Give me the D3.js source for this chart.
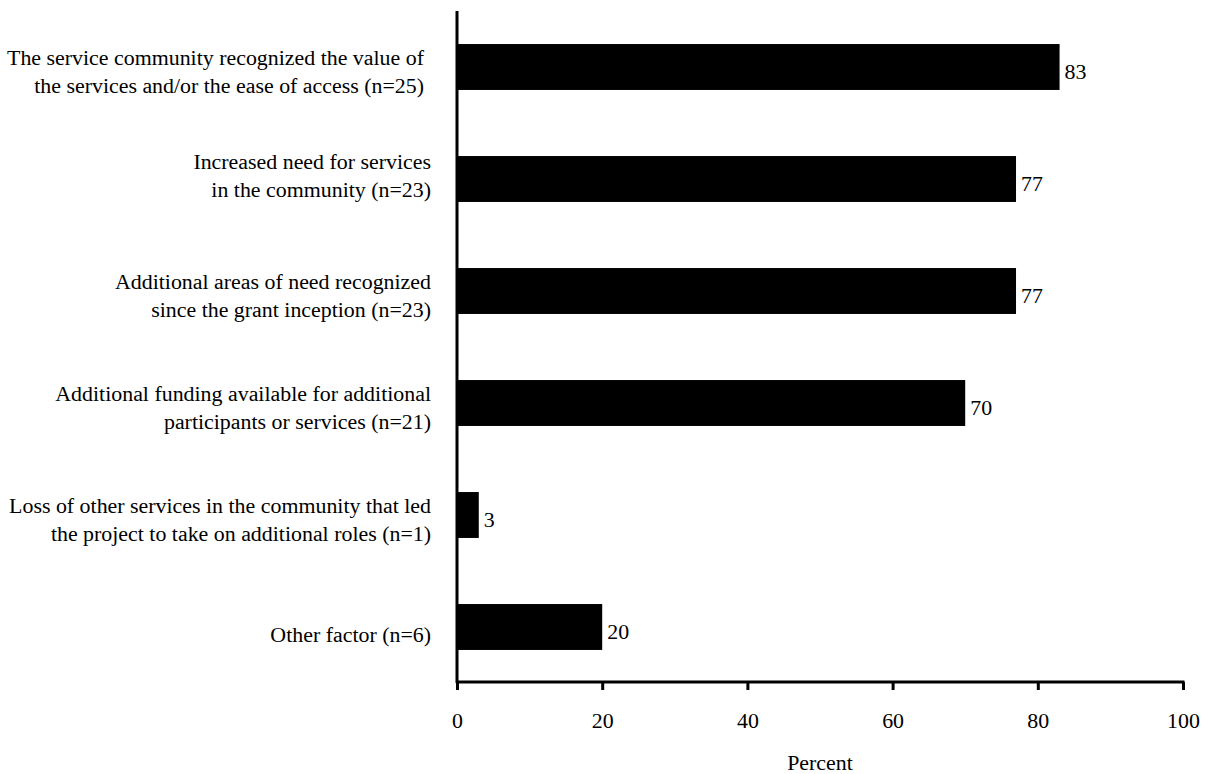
<!DOCTYPE html>
<html>
<head>
<meta charset="utf-8">
<script src="https://cdn.jsdelivr.net/npm/d3@7"></script>
<style>
  html, body { margin: 0; padding: 0; background: #fff; }
  svg text { font-family: "Liberation Serif", "Times New Roman", Times, "DejaVu Serif", serif !important; fill: #000; }
</style>
</head>
<body>
<svg id="chart" width="1207" height="774"></svg>
<script>
// ---- data ----
const categories = [
  ["The service community recognized the value of", "the services and/or the ease of access (n=25)"],
  ["Increased need for services", "in the community (n=23)"],
  ["Additional areas of need recognized", "since the grant inception (n=23)"],
  ["Additional funding available for additional", "participants or services (n=21)"],
  ["Loss of other services in the community that led", "the project to take on additional roles (n=1)"],
  ["Other factor (n=6)"]
];
const values = [83, 77, 77, 70, 3, 20];
const xTicks = [0, 20, 40, 60, 80, 100];
const xAxisTitle = "Percent";

(function () {
  const svg = d3.select("#chart");
  const mLeft = 457, mRight = 1183, mTop = 11, mBottom = 683;
  const fontSize = 21.9;

  const x = d3.scaleLinear().domain([0, 100]).range([mLeft, mRight]);
  const y = d3.scaleBand()
    .domain(d3.range(categories.length))
    .range([mTop, mBottom])
    .paddingInner(0.59)
    .paddingOuter(0.295);

  // bars
  svg.append("g").selectAll("rect")
    .data(values)
    .join("rect")
    .attr("x", x(0))
    .attr("y", (d, i) => y(i))
    .attr("width", d => x(d) - x(0))
    .attr("height", y.bandwidth())
    .attr("fill", "#000");

  // value labels
  svg.append("g").selectAll("text")
    .data(values)
    .join("text")
    .attr("x", d => x(d) + 5)
    .attr("y", (d, i) => y(i) + y.bandwidth() / 2 + 12)
    .attr("font-size", fontSize)
    .text(d => d);

  // category labels
  const labelG = svg.append("g");
  categories.forEach((lines, i) => {
    const cy = y(i) + y.bandwidth() / 2;
    const ax = i === 0 ? 424 : 431;
    const shift = i === 1 ? -8 : 0;
    const t = labelG.append("text")
      .attr("text-anchor", "end")
      .attr("font-size", fontSize);
    if (lines.length === 1) {
      t.append("tspan").attr("x", ax).attr("y", cy + 15).text(lines[0]);
    } else {
      lines.forEach((ln, j) => {
        t.append("tspan").attr("x", ax).attr("y", cy - 2 + shift + j * 28).text(ln);
      });
    }
  });

  // x axis
  const xAxis = d3.axisBottom(x)
    .tickValues(xTicks)
    .tickSize(8)
    .tickPadding(22)
    .tickFormat(d3.format("d"));
  const gx = svg.append("g")
    .attr("transform", `translate(0,${mBottom - 1})`)
    .call(xAxis);
  gx.attr("font-family", null);
  gx.select(".domain").attr("stroke", "#000").attr("stroke-width", 3)
    .attr("d", `M${mLeft},0H${mRight + 1.5}`);
  gx.selectAll(".tick line").attr("stroke", "#000").attr("stroke-width", 3);
  gx.selectAll(".tick text")
    .attr("font-size", fontSize)
    .attr("fill", "#000");

  // y axis line
  svg.append("line")
    .attr("x1", mLeft).attr("x2", mLeft)
    .attr("y1", mTop).attr("y2", mBottom)
    .attr("stroke", "#000").attr("stroke-width", 3);

  // x axis title
  svg.append("text")
    .attr("x", (mLeft + mRight) / 2)
    .attr("y", 770)
    .attr("text-anchor", "middle")
    .attr("font-size", fontSize)
    .text(xAxisTitle);
})();
</script>
</body>
</html>
